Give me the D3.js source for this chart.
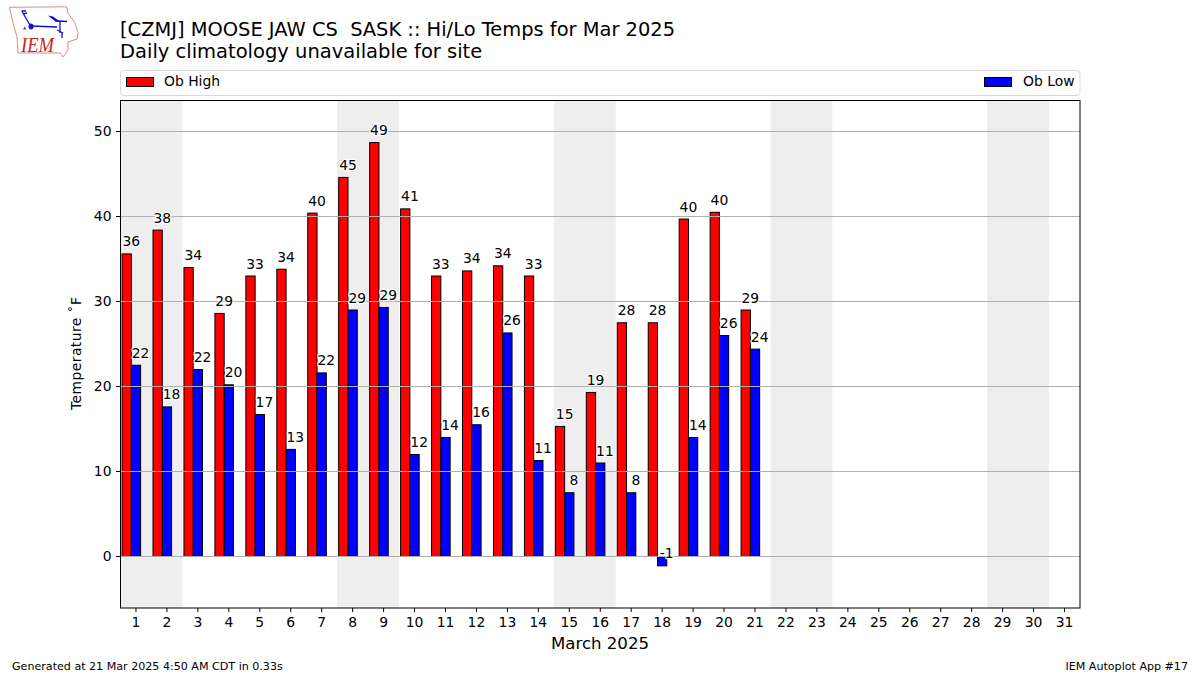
<!DOCTYPE html>
<html><head><meta charset="utf-8">
<script src="https://cdn.jsdelivr.net/npm/d3@7"></script>
<style>html,body{margin:0;padding:0;background:#fff}svg{display:block}text{font-family:"DejaVu Sans",sans-serif;fill:#000}</style>
</head><body><div id="chart"></div>
<script>
const days = d3.range(1, 32);
const highs = [35.6,38.4,34,28.6,33,33.8,40.4,44.6,48.7,40.9,33,33.6,34.2,33,15.3,19.3,27.5,27.5,39.7,40.5,29];
const lows = [22.5,17.6,22,20.2,16.7,12.6,21.6,29,29.3,12,14,15.5,26.3,11.3,7.5,11,7.5,-1.1,14,26,24.4];
const highLabels = [36,38,34,29,33,34,40,45,49,41,33,34,34,33,15,19,28,28,40,40,29];
const lowLabels = [22,18,22,20,17,13,22,29,29,12,14,16,26,11,8,11,8,-1,14,26,24];
const weekendStarts = [1,8,15,22,29];
const yTicks = [0,10,20,30,40,50];
const titleLine1 = "[CZMJ] MOOSE JAW CS  SASK :: Hi/Lo Temps for Mar 2025";
const titleLine2 = "Daily climatology unavailable for site";

const svg = d3.select("#chart").append("svg").attr("width",1200).attr("height",675);
const L=120.5,R=1080,T=100.5,B=608;
const x = d3.scaleLinear().domain([0.5,31.5]).range([L,R]);
const y = d3.scaleLinear().domain([-6.06,53.65]).range([B,T]);
const clip = svg.append("g");

clip.selectAll("rect.wk").data(weekendStarts).join("rect").attr("class","wk")
  .attr("x",d=>x(d-0.5)).attr("width",d=>x(d+1.5)-x(d-0.5))
  .attr("y",T).attr("height",B-T).attr("fill","#eeeeee");

function bars(name,vals,fill,off){
  clip.selectAll("rect."+name).data(vals).join("rect").attr("class",name)
    .attr("x",(d,i)=>x(i+1+off)).attr("width",x(0.8)-x(0.5))
    .attr("y",d=>Math.min(y(d),y(0))).attr("height",d=>Math.abs(y(d)-y(0)))
    .attr("fill",fill).attr("stroke","#000").attr("stroke-width",1);
}
bars("hi",highs,"#ff0000",-0.45);
bars("lo",lows,"#0000ff",-0.15);

clip.selectAll("line.g").data(yTicks).join("line").attr("class","g")
  .attr("x1",L).attr("x2",R).attr("y1",d=>y(d)).attr("y2",d=>y(d))
  .attr("stroke","#b0b0b0").attr("stroke-width",1);

function labels(vals,labs,off){
  clip.append("g").selectAll("text").data(vals).join("text")
    .attr("x",(d,i)=>x(i+1+off)).attr("y",d=>y(d+1)+1).attr("text-anchor","middle")
    .attr("font-size","13.9px").attr("stroke","#fff").attr("stroke-width",2.5)
    .attr("stroke-opacity",0.85).attr("paint-order","stroke")
    .text((d,i)=>labs[i]);
}
labels(highs,highLabels,-0.15);
labels(lows,lowLabels,0.15);

const xAxis = svg.append("g").attr("transform",`translate(0,${B})`)
  .call(d3.axisBottom(x).tickValues(days).tickFormat(d3.format("d")).tickSize(4).tickPadding(5).offset(0));
const yAxis = svg.append("g").attr("transform",`translate(${L},0)`)
  .call(d3.axisLeft(y).tickValues(yTicks).tickSize(4.5).tickPadding(4.5).offset(0));
[xAxis,yAxis].forEach(a=>{a.select(".domain").remove();a.selectAll("text").attr("font-size","13.9px").attr("font-family","DejaVu Sans");a.selectAll("line").attr("stroke","#000").attr("stroke-width",1);});

svg.append("rect").attr("x",L).attr("y",T).attr("width",R-L).attr("height",B-T)
  .attr("fill","none").attr("stroke","#000").attr("stroke-width",1);

svg.append("text").attr("x",120).attr("y",35.5).attr("font-size","19.44px").attr("textLength",555).style("white-space","pre").text(titleLine1);
svg.append("text").attr("x",120).attr("y",57.5).attr("font-size","19.5px").text(titleLine2);

svg.append("rect").attr("x",120.5).attr("y",70.5).attr("width",959.5).attr("height",25).attr("rx",3)
  .attr("fill","#fff").attr("stroke","#d9d9d9").attr("stroke-width",1);
svg.append("rect").attr("x",126.5).attr("y",77.5).attr("width",27).attr("height",9).attr("fill","#ff0000").attr("stroke","#000");
svg.append("text").attr("x",164).attr("y",86).attr("font-size","13.9px").text("Ob High");
svg.append("rect").attr("x",984.5).attr("y",77.5).attr("width",27).attr("height",9).attr("fill","#0000ff").attr("stroke","#000");
svg.append("text").attr("x",1074.5).attr("y",86).attr("text-anchor","end").attr("font-size","13.9px").text("Ob Low");

svg.append("text").attr("x",600).attr("y",649).attr("text-anchor","middle").attr("font-size","16.6px").text("March 2025");
svg.append("text").attr("transform","translate(80.5,353.5) rotate(-90)").attr("text-anchor","middle").attr("font-size","13.9px").attr("textLength",113).text("Temperature \u02DAF");

svg.append("text").attr("x",12).attr("y",670).attr("font-size","11.1px").text("Generated at 21 Mar 2025 4:50 AM CDT in 0.33s");
svg.append("text").attr("x",1188).attr("y",670).attr("text-anchor","end").attr("font-size","11.1px").text("IEM Autoplot App #17");

const logo = svg.append("g");
logo.append("path").attr("d","M9.5,7.3 L66.7,6.8 L68,13 L75,23 L78,33 L77,39 L68,42 L68,50 L63,57 L60,53 L18,53 L17,37 L13,23 Z")
  .attr("fill","none").attr("stroke","#e08a8a").attr("stroke-width",1);
logo.append("path").attr("d","M31,26 L57,27 M21.7,11 L30,25 M21.7,11 L26,11 M23,14 L27,13 M57,21 L67,21.5 M60,22 L60,33 M57,30 L63,33 M62,33 L62,38").attr("fill","none").attr("stroke","#1010d0").attr("stroke-width",1.3);
logo.append("ellipse").attr("cx",31).attr("cy",26.5).attr("rx",2.5).attr("ry",3).attr("fill","#1010d0");
logo.append("path").attr("d","M48,15.5 L53,16.5 L60,21.5 L56,22 Z").attr("fill","#1010d0");
logo.append("path").attr("d","M23,29.5 L26.5,29.5 L24.7,26.5 Z").attr("fill","#4040d0");
logo.append("text").attr("x",21).attr("y",52).attr("font-size","22px").attr("textLength",33).attr("lengthAdjust","spacingAndGlyphs").style("font-family","'Liberation Serif',serif").style("font-style","italic").style("fill","#d02020").text("IEM");
</script></body></html>
